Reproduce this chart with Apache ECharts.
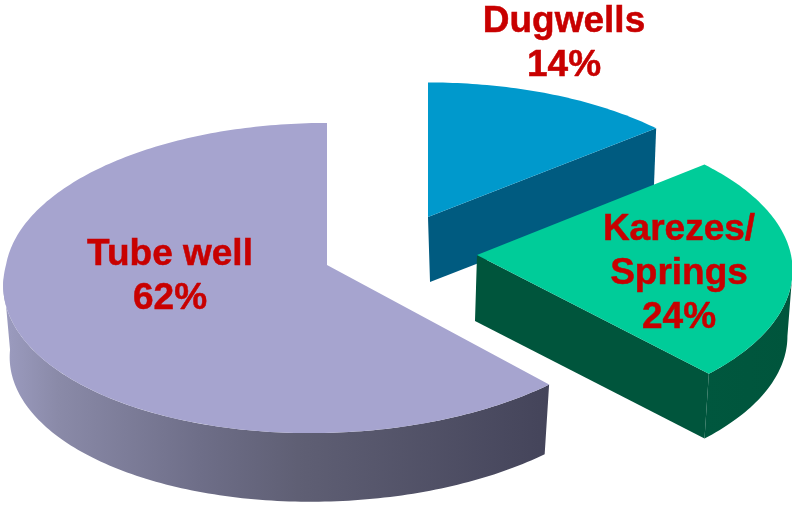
<!DOCTYPE html>
<html>
<head>
<meta charset="utf-8">
<title>Water sources</title>
<style>
    html, body { margin: 0; padding: 0; background: #fff; }
    #chart { width: 792px; height: 506px; }
</style>
<script src="https://cdn.jsdelivr.net/npm/echarts@6/dist/echarts.min.js"></script>
</head>
<body>
<div id="chart"></div>
<script>
    // 数据
    var categories = ['Dugwells', 'Karezes/\nSprings', 'Tube well']
    var shares = [14, 24, 62]

    // 每块扇形的投影参数 (cx,cy 顶点; r,b 半径; q 透视; shear 前半部倾斜; depth 厚度; sx 厚度偏移; scale 底面缩放)
    var wedges = [
        { cx: 428, cy: 217, r: 315, b: 148, q: 0.1, shear: 0, depth: 65, sx: 2, scale: 0.98,
            top: '#0099cc', cut: '#005b80', labelX: 564, labelY: 44, stops: [] },
        { cx: 477, cy: 255, r: 314, b: 151, q: 0.1, shear: 0, depth: 66, sx: -2, scale: 0.99,
            top: '#00cc99', cut: '#00553c', labelX: 679, labelY: 274,
            stops: [[0, '#00553c'], [1, '#00573e']] },
        { cx: 327, cy: 265, r: 321, b: 154, q: 0.084, shear: -0.1, depth: 72, sx: 0, scale: 0.98,
            top: '#a6a4cf', cut: '#44445a', labelX: 170, labelY: 277,
            stops: [[0, '#44445a'], [0.46, '#5f5f74'], [0.64, '#6e6e88'], [0.9, '#8a8aa8'], [1, '#9c9cc0']] }
    ]

    var total = shares.reduce(function (a, b) { return a + b }, 0)

    // 圆周在透视下的投影
    function project (w, deg, bottom) {
        var a = deg * Math.PI / 180
        var s = Math.sin(a)
        var d = 1 - w.q * s
        var y = w.b * s / d
        var x = w.r * Math.cos(a) / d + (y > 0 ? w.shear * y : 0)
        if (bottom) {
            return [w.cx + w.sx + x * w.scale, w.cy + w.depth + y * w.scale]
        }
        return [w.cx + x, w.cy + y]
    }

    function arc (w, from, to, bottom) {
        var pts = []
        var n = Math.max(2, Math.ceil(Math.abs(to - from)))
        for (var i = 0; i <= n; i++) {
            pts.push(project(w, from + (to - from) * i / n, bottom))
        }
        return pts
    }

    function renderWedge (params, api) {
        var idx = params.dataIndex
        var w = wedges[idx]
        var before = 0
        for (var i = 0; i < idx; i++) before += shares[i]
        var start = -90 + before / total * 360
        var end = start + api.value(0) / total * 360
        var children = []

        // 外侧弧面
        var edge = Math.asin(w.q) * 180 / Math.PI
        var from = Math.max(start, edge)
        var to = Math.min(end, 180 - edge)
        if (to > from) {
            children.push({
                type: 'polygon',
                shape: { points: arc(w, from, to, false).concat(arc(w, to, from, true)) },
                style: {
                    fill: {
                        type: 'linear', x: 1, y: 0, x2: 0, y2: 0,
                        colorStops: w.stops.map(function (s) { return { offset: s[0], color: s[1] } })
                    }
                }
            })
        }
        // 切面
        if (end < 90) {
            children.push({
                type: 'polygon',
                shape: {
                    points: [
                        [w.cx, w.cy], project(w, end, false),
                        project(w, end, true), [w.cx + w.sx, w.cy + w.depth]
                    ]
                },
                style: { fill: w.cut }
            })
        }
        // 顶面
        children.push({
            type: 'polygon',
            shape: { points: [[w.cx, w.cy]].concat(arc(w, start, end, false)) },
            style: { fill: w.top }
        })
        // 标签
        children.push({
            type: 'text',
            z2: 10,
            style: {
                x: w.labelX,
                y: w.labelY,
                text: categories[idx] + '\n' + api.value(0) + '%',
                fill: '#c80000',
                stroke: '#c80000',
                lineWidth: 0.5,
                font: 'bold 37px "Liberation Sans", Arial, sans-serif',
                lineHeight: 44,
                align: 'center',
                verticalAlign: 'middle'
            }
        })
        return { type: 'group', children: children }
    }

    var chart = echarts.init(document.getElementById('chart'))
    chart.setOption({
        backgroundColor: '#fff',
        animation: false,
        series: [{
            type: 'custom',
            coordinateSystem: 'none',
            renderItem: renderWedge,
            data: shares.map(function (v) { return [v] })
        }]
    })
</script>
</body>
</html>
